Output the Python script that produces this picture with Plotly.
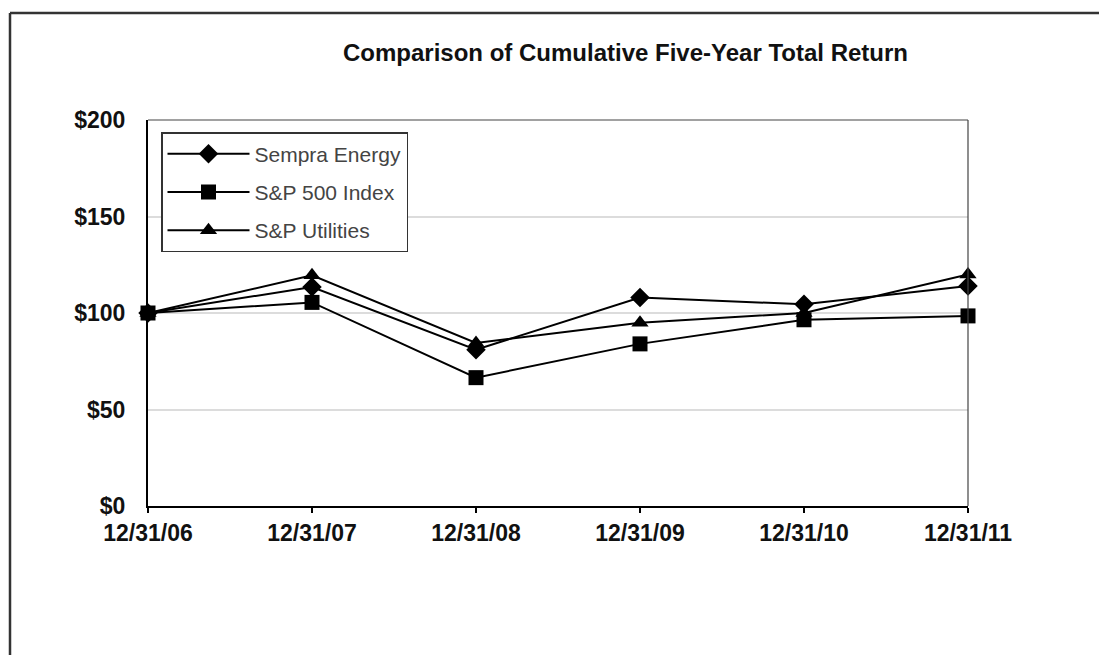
import plotly.graph_objects as go

dates = ["12/31/06", "12/31/07", "12/31/08", "12/31/09", "12/31/10", "12/31/11"]
sempra = [100, 113.5, 81, 108, 104.5, 114]
sp500 = [100, 105.5, 66.5, 84, 96.5, 98.5]
sp_util = [100, 119.5, 84.5, 95, 100, 120]
y_ticks = [0, 50, 100, 150, 200]
y_labels = ["$0", "$50", "$100", "$150", "$200"]

x_pos = list(range(len(dates)))

FONT = "Liberation Sans, Arial, sans-serif"

# plot area in figure pixels
L, T, W, H = 140, 112, 820, 386
FW, FH = 1107, 655


def px(x):
    return (x - L) / W


def py(y):
    return (T + H - y) / H


fig = go.Figure()
series = [
    ("Sempra Energy", sempra, "diamond", 15),
    ("S&P 500 Index", sp500, "square", 15),
    ("S&P Utilities", sp_util, "triangle-up", 15),
]
for name, vals, sym, sz in series:
    fig.add_trace(go.Scatter(
        x=x_pos, y=vals, name=name, mode="lines+markers",
        line=dict(color="black", width=2),
        marker=dict(symbol=sym, size=sz, color="black"),
        cliponaxis=False, legendgroup=name,
    ))

fig.update_layout(
    width=FW, height=FH,
    margin=dict(l=L, r=FW - L - W, t=T, b=FH - T - H),
    paper_bgcolor="white", plot_bgcolor="white",
    showlegend=True,
    legend=dict(
        x=px(153), y=py(124), xanchor="left", yanchor="top",
        bordercolor="#333", borderwidth=1.5,
        font=dict(family=FONT, size=21, color="#444"),
        tracegroupgap=8, bgcolor="white",
        itemwidth=82,
    ),
    xaxis=dict(
        range=[0, 5], tickvals=x_pos, ticktext=dates,
        showgrid=False, zeroline=False,
        showline=True, linecolor="black", linewidth=2,
        ticks="outside", ticklen=5, tickcolor="black", tickwidth=1.5,
        tickfont=dict(family=FONT, size=23, color="#111", weight="bold"),
    ),
    yaxis=dict(
        range=[0, 200], tickvals=y_ticks, ticktext=y_labels,
        showgrid=True, gridcolor="#dcdcdc", gridwidth=1.5,
        zeroline=False,
        showline=True, linecolor="black", linewidth=2,
        ticks="",
        tickfont=dict(family=FONT, size=23, color="#111", weight="bold"),
        ticklabelstandoff=16,
    ),
    annotations=[dict(
        text="<b>Comparison of Cumulative Five-Year Total Return</b>",
        xref="paper", yref="paper", x=px(617), y=py(44),
        xanchor="center", yanchor="middle", showarrow=False,
        font=dict(family=FONT, size=24, color="#111"),
    )],
    shapes=[
        dict(type="line", xref="paper", yref="paper", x0=0, x1=1, y0=1, y1=1,
             line=dict(color="#444", width=1.2)),
        dict(type="line", xref="paper", yref="paper", x0=1, x1=1, y0=0, y1=1,
             line=dict(color="#444", width=1.2)),
        dict(type="line", xref="paper", yref="paper",
             x0=px(2), x1=px(2), y0=py(FH + 5), y1=py(5),
             line=dict(color="#333", width=2.5)),
        dict(type="line", xref="paper", yref="paper",
             x0=px(2), x1=px(FW + 5), y0=py(5), y1=py(5),
             line=dict(color="#333", width=2.5)),
    ],
)

fig.write_html("out.html")
